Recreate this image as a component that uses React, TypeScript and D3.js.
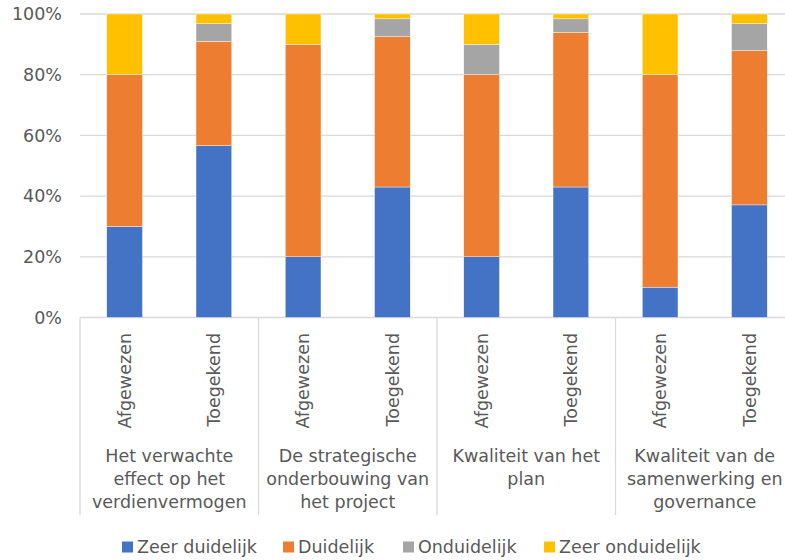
import { useEffect, useRef } from "react";
import * as d3 from "d3";

const groups = [
  ["Het verwachte", "effect op het", "verdienvermogen"],
  ["De strategische", "onderbouwing van", "het project"],
  ["Kwaliteit van het", "plan"],
  ["Kwaliteit van de", "samenwerking en", "governance"],
];
const subs = ["Afgewezen", "Toegekend"];
const seriesNames = ["Zeer duidelijk", "Duidelijk", "Onduidelijk", "Zeer onduidelijk"];
const seriesColors = ["#4472C4", "#ED7D31", "#A5A5A5", "#FFC000"];

// one value per bar, in order: group1 Afgewezen, group1 Toegekend, ...
const zeerDuidelijk = [30, 56.6, 20, 43, 20, 43, 10, 37.1];
const duidelijk = [50, 34.4, 70, 49.5, 60, 51, 70, 50.8];
const onduidelijk = [0, 5.8, 0, 5.9, 10, 4.4, 0, 8.9];
const zeerOnduidelijk = [20, 3.2, 10, 1.6, 10, 1.6, 20, 3.2];
const yTicks = [0, 20, 40, 60, 80, 100];

const font = "'DejaVu Sans', sans-serif";
const fontSize = "17.5px";
const textColor = "#595959";

export default function App() {
  const svgRef = useRef<SVGSVGElement>(null);

  useEffect(() => {
    const svg = d3.select(svgRef.current);
    svg.selectAll("*").remove();

    const left = 80;
    const right = 794;
    const top = 14;
    const bottom = 317.5;

    const bars = groups.flatMap((g, gi) =>
      subs.map((s, si) => {
        const i = gi * 2 + si;
        return {
          key: `${gi}-${s}`,
          sub: s,
          group: gi,
          values: [zeerDuidelijk[i], duidelijk[i], onduidelijk[i], zeerOnduidelijk[i]],
        };
      })
    );

    const x = d3.scaleBand().domain(bars.map((b) => b.key)).range([left, right]).paddingInner(0.6).paddingOuter(0.3);
    const xg = d3.scaleBand().domain(groups.map((_, i) => String(i))).range([left, right]);
    const y = d3.scaleLinear().domain([0, 100]).range([bottom, top]);

    // gridlines
    svg.append("g")
      .selectAll("line")
      .data(yTicks)
      .join("line")
      .attr("x1", left)
      .attr("x2", right)
      .attr("y1", (d) => y(d))
      .attr("y2", (d) => y(d))
      .attr("stroke", "#D9D9D9")
      .attr("stroke-width", 1.3);

    // y labels
    svg.append("g")
      .selectAll("text")
      .data(yTicks)
      .join("text")
      .attr("x", 62)
      .attr("y", (d) => y(d))
      .attr("dy", "0.35em")
      .attr("text-anchor", "end")
      .style("font-family", font)
      .style("font-size", fontSize)
      .attr("fill", textColor)
      .text((d) => `${d}%`);

    // stacked bars
    bars.forEach((b) => {
      let acc = 0;
      b.values.forEach((v, si) => {
        if (v <= 0) return;
        svg.append("rect")
          .attr("x", x(b.key)!)
          .attr("width", x.bandwidth())
          .attr("y", y(acc + v))
          .attr("height", y(acc) - y(acc + v))
          .attr("fill", seriesColors[si])
          .attr("stroke", "#fff")
          .attr("stroke-width", 0.4);
        acc += v;
      });
    });

    // category separators
    const sepBottom = 515;
    d3.range(groups.length + 1).forEach((i) => {
      const sx = i < groups.length ? xg(String(i))! : right;
      svg.append("line")
        .attr("x1", sx)
        .attr("x2", sx)
        .attr("y1", bottom)
        .attr("y2", sepBottom)
        .attr("stroke", "#D9D9D9")
        .attr("stroke-width", 1.3);
    });

    // sub labels (rotated)
    svg.append("g")
      .selectAll("text")
      .data(bars)
      .join("text")
      .attr("transform", (d) => `translate(${x(d.key)! + x.bandwidth() / 2},333) rotate(-90)`)
      .attr("text-anchor", "end")
      .attr("dy", "0.35em")
      .style("font-family", font)
      .style("font-size", fontSize)
      .attr("fill", textColor)
      .text((d) => d.sub);

    // group labels
    groups.forEach((lines, gi) => {
      const cx = xg(String(gi))! + xg.bandwidth() / 2;
      const t = svg.append("text")
        .attr("text-anchor", "middle")
        .style("font-family", font)
        .style("font-size", fontSize)
        .attr("fill", textColor);
      lines.forEach((l, li) => {
        t.append("tspan").attr("x", cx).attr("y", 462 + li * 23).text(l);
      });
    });

    // legend
    const legendX = [122, 283, 403, 544];
    const legend = svg.append("g")
      .selectAll("g")
      .data(seriesNames)
      .join("g")
      .attr("transform", (_, i) => `translate(${legendX[i]},547)`);
    legend.append("rect")
      .attr("x", 0)
      .attr("y", -5.5)
      .attr("width", 11)
      .attr("height", 11)
      .attr("fill", (_, i) => seriesColors[i]);
    legend.append("text")
      .attr("x", 15)
      .attr("dy", "0.35em")
      .style("font-family", font)
      .style("font-size", fontSize)
      .attr("fill", textColor)
      .text((d) => d);
  }, []);

  return (
    <div style={{ position: "absolute", left: 0, top: 0 }}>
      <svg ref={svgRef} width={785} height={560} style={{ display: "block", background: "#fff" }}></svg>
    </div>
  );
}
